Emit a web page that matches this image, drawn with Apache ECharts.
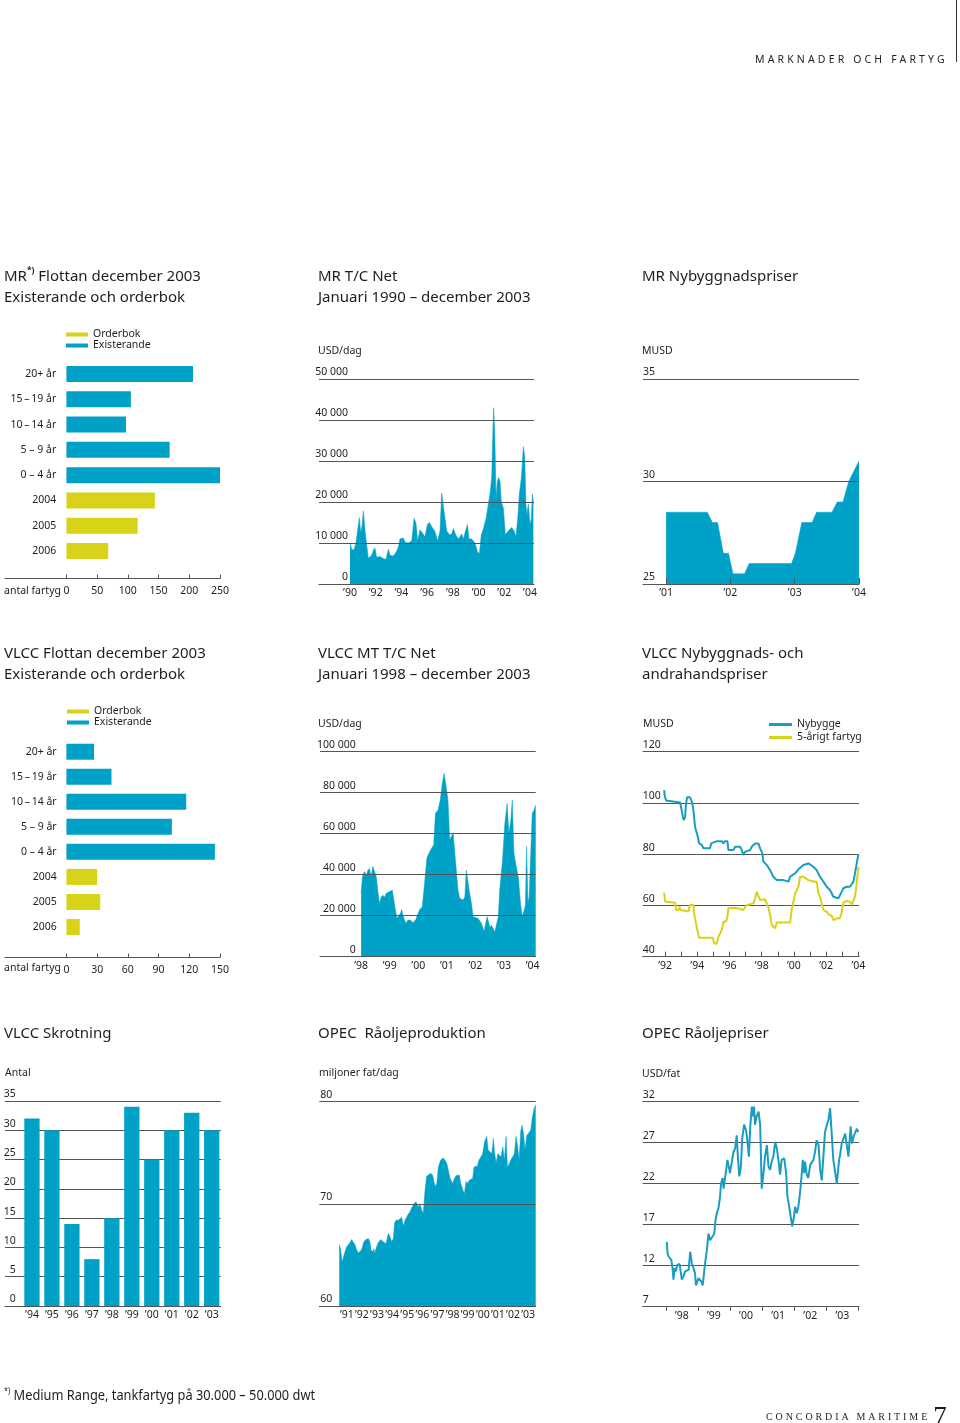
<!DOCTYPE html>
<html><head><meta charset="utf-8">
<script src="https://cdn.jsdelivr.net/npm/echarts@6/dist/echarts.min.js"></script>
<style>
html,body{margin:0;padding:0;background:#fff;}
#c{width:960px;height:1423px;position:absolute;left:0;top:0;}
.t{position:absolute;color:#1e1e1e;white-space:nowrap;pointer-events:none;}
#hdr{left:755px;top:52px;font:10.5px 'Noto Sans',sans-serif;letter-spacing:3.15px;}
#fn{left:4px;top:1385px;font:14px 'Noto Sans',sans-serif;transform-origin:0 0;transform:scaleX(0.915);}
#fn sup{font-size:8px;vertical-align:6px;}
#brand{left:766px;top:1401px;font:10px 'Liberation Serif','DejaVu Serif',serif;letter-spacing:2.9px;}
#brand span{font-size:27px;letter-spacing:0;vertical-align:-5px;margin-left:3px;}
</style></head><body>
<div id="c"></div>
<div class="t" id="hdr">MARKNADER OCH FARTYG</div>
<div class="t" id="fn"><sup>*)</sup> Medium Range, tankfartyg på 30.000 – 50.000 dwt</div>
<div class="t" id="brand">CONCORDIA MARITIME<span>7</span></div>
<script>
// ---------- DATA ----------
const ageCats = ['20+ år','15\u2009–\u200919 år','10\u2009–\u200914 år','5 – 9 år','0 – 4 år','2004','2005','2006'];
const mrExisting  = [206,105,97,168,251,'-','-','-'];
const mrOrderbook = ['-','-','-','-','-',144,116,68];
const mrFleetTicks = [0,50,100,150,200,250];

const vlccExisting  = [27,44,117,103,145,'-','-','-'];
const vlccOrderbook = ['-','-','-','-','-',30,33,13];
const vlccFleetTicks = [0,30,60,90,120,150];

const mrTcYears = [1990.00,1990.13,1990.31,1990.47,1990.60,1990.73,1990.83,1990.93,1991.04,1991.17,1991.30,1991.43,1991.56,1991.69,1991.81,1991.94,1992.07,1992.33,1992.59,1992.80,1992.98,1993.11,1993.37,1993.63,1993.76,1993.89,1994.15,1994.28,1994.54,1994.80,1994.98,1995.13,1995.26,1995.44,1995.63,1995.83,1996.02,1996.17,1996.35,1996.61,1996.82,1997.00,1997.13,1997.26,1997.39,1997.52,1997.73,1997.91,1998.04,1998.22,1998.43,1998.69,1998.82,1999.00,1999.13,1999.26,1999.46,1999.72,1999.90,2000.06,2000.21,2000.37,2000.58,2000.76,2000.89,2001.02,2001.10,2001.17,2001.25,2001.36,2001.46,2001.56,2001.67,2001.77,2001.93,2002.08,2002.32,2002.57,2002.76,2002.91,2003.07,2003.17,2003.33,2003.48,2003.59,2003.69,2003.77,2003.87,2004.00,2004.10,2004.18,2004.26];
const mrTcValues = [10000,8500,8300,10200,10000,16200,12500,14000,17800,13000,9500,6300,6200,7000,8200,8800,6500,6700,6200,6000,8500,7000,6800,8000,9000,11000,11200,10200,10000,10500,16000,15000,10500,13200,12500,11500,14500,15000,14000,12800,10500,13000,22200,19000,16000,13000,12000,12200,13500,12000,11000,12200,11000,13200,14500,11000,11000,10000,8000,7300,12000,13500,16000,19500,22000,26000,36000,43000,38000,21000,25000,26000,25000,20000,18500,12000,13000,13800,13000,11500,17000,22000,26000,33500,31000,19000,17000,19500,14500,16000,22000,20000];
const mrTcYearLabels = [1990,1992,1994,1996,1998,2000,2002,2004];

const mrNbYears = [2001.00,2001.64,2001.72,2001.80,2001.89,2001.97,2002.04,2002.22,2002.29,2002.95,2003.01,2003.11,2003.27,2003.34,2003.58,2003.66,2003.75,2003.84,2004.00];
const mrNbValues = [28.5,28.5,28.0,28.0,26.5,26.5,25.5,25.5,26.0,26.0,26.5,28.0,28.0,28.5,28.5,29.0,29.0,30.0,31.0];
const mrNbYearLabels = [2001,2002,2003,2004];

const vlccTcYears = [1998.00,1998.04,1998.06,1998.12,1998.18,1998.23,1998.29,1998.35,1998.41,1998.47,1998.53,1998.58,1998.64,1998.70,1998.76,1998.82,1998.88,1998.99,1999.09,1999.13,1999.20,1999.25,1999.32,1999.37,1999.42,1999.46,1999.56,1999.64,1999.72,1999.81,1999.91,1999.99,2000.05,2000.14,2000.22,2000.30,2000.37,2000.46,2000.54,2000.60,2000.69,2000.77,2000.84,2000.90,2000.96,2001.04,2001.10,2001.16,2001.22,2001.27,2001.33,2001.39,2001.45,2001.51,2001.57,2001.63,2001.68,2001.78,2001.86,2001.92,2001.98,2002.09,2002.15,2002.21,2002.27,2002.30,2002.36,2002.41,2002.47,2002.51,2002.56,2002.62,2002.68,2002.74,2002.80,2002.85,2002.95,2003.03,2003.11,2003.17,2003.24,2003.29,2003.35,2003.42,2003.50,2003.58,2003.64,2003.71,2003.75,2003.79,2003.84,2003.88,2003.94,2003.99,2004.05,2004.11];
const vlccTcValues = [31000,38000,40000,41500,39500,42000,43000,39000,44000,44700,39000,32500,26000,29000,30000,29000,31000,31700,32500,29000,22800,18700,18700,21000,23000,20300,16300,17900,17900,16600,18000,21000,23000,24400,35800,48000,50400,52800,54500,70000,71500,76400,84500,89400,84500,76400,57000,57700,60500,52000,42300,32500,28500,29300,27600,29300,42300,32500,26000,19500,18700,18700,19500,16300,13800,12200,16300,19500,16300,14300,15400,13800,12200,11700,19500,32500,47200,65000,74800,60200,66700,76400,50400,44700,39000,26000,19500,20300,25000,53700,26000,29300,29300,70000,71500,74000];
const vlccTcYearLabels = [1998,1999,2000,2001,2002,2003,2004];

const newbuildYears = [1991.94,1991.98,1992.06,1992.10,1992.93,1993.03,1993.10,1993.16,1993.24,1993.30,1993.37,1993.55,1993.66,1993.76,1993.82,1993.86,1993.97,1994.03,1994.11,1994.28,1994.38,1994.79,1994.86,1995.21,1995.52,1995.62,1995.72,1995.87,1995.93,1996.24,1996.35,1996.66,1996.76,1996.86,1996.97,1997.07,1997.28,1997.38,1997.59,1997.79,1997.90,1998.04,1998.10,1998.31,1998.52,1998.72,1998.93,1999.03,1999.35,1999.66,1999.76,2000.07,2000.28,2000.59,2000.90,2001.21,2001.41,2001.62,2001.83,2002.03,2002.24,2002.45,2002.55,2002.76,2002.86,2002.97,2003.07,2003.28,2003.48,2003.69,2003.79,2003.90,2004.00];
const newbuildValues = [105,102.7,101,100.3,100.2,97.2,94.6,93.3,94.6,99.8,102.2,102.2,100.5,97.2,93.3,90.7,90,86.8,84.2,83.6,82.3,82.3,84.2,85.1,85.1,84.2,85.1,85.1,81.6,81.6,82.9,82.9,81.6,79.7,81,80.3,81.6,82.9,84.2,84.2,82.3,80.3,77.1,75.8,73.8,71.2,69.9,70.6,69.9,69.3,71.2,72.5,74.1,75.8,76.4,75.1,73.8,71.2,69.3,67.3,66,63.4,62.8,62.8,63.4,65.4,66.7,67.3,67.3,69.3,72.5,76.4,80];
const fiveYearYears = [1991.94,1992.00,1992.06,1992.62,1992.68,1992.83,1992.89,1992.97,1993.03,1993.45,1993.55,1993.76,1993.82,1993.92,1994.00,1994.11,1994.96,1995.04,1995.21,1995.31,1995.41,1995.52,1995.62,1995.79,1995.87,1995.93,1996.35,1996.45,1996.86,1997.07,1997.28,1997.48,1997.59,1997.69,1997.79,1997.90,1998.21,1998.31,1998.41,1998.52,1998.62,1998.83,1998.89,1998.93,1999.76,1999.86,1999.97,2000.07,2000.17,2000.28,2000.38,2000.59,2000.90,2001.21,2001.41,2001.52,2001.62,2001.72,2001.83,2002.03,2002.14,2002.34,2002.45,2002.55,2002.66,2002.86,2002.97,2003.07,2003.28,2003.38,2003.48,2003.59,2003.69,2003.79,2003.90,2004.00];
const fiveYearValues = [65,61.5,61.1,61.1,58.2,58.2,59.5,58.2,57.6,57.6,60.2,60.2,56.3,53,50.4,47.4,47.4,45.2,45.2,47.8,48.5,50.4,53.7,53.7,55.6,58.9,59.1,58.5,58.2,60.2,60.5,60.8,62.8,65.4,65,62.1,62.4,60.8,59.5,56.3,52.4,51.1,50.4,53.3,53.3,58.2,61.5,64.7,65.4,67.3,71.2,71.2,69.9,69.3,69.3,64.7,63.4,60.8,58.2,57.6,56.6,56,54.3,53.7,55,55,57.6,61.1,61.8,62.1,61.5,60.2,60.8,63.4,68.6,75.1];
const vlccPriceYearLabels = [1992,1994,1996,1998,2000,2002,2004];
const vlccPriceYearTicks = [1992,1993,1994,1995,1996,1997,1998,1999,2000,2001,2002,2003,2004];

const scrapYears = [1994,1995,1996,1997,1998,1999,2000,2001,2002,2003];
const scrapValues = [32,30,14,8,15,34,25,30,33,30];

const opecProdYears = [1991.00,1991.09,1991.18,1991.26,1991.38,1991.49,1991.66,1991.82,1991.93,1992.04,1992.15,1992.26,1992.37,1992.48,1992.63,1992.77,1992.92,1993.03,1993.10,1993.21,1993.30,1993.36,1993.47,1993.58,1993.74,1993.91,1994.09,1994.25,1994.36,1994.47,1994.58,1994.66,1994.75,1994.91,1995.02,1995.13,1995.24,1995.35,1995.46,1995.57,1995.68,1995.79,1995.94,1996.08,1996.23,1996.34,1996.45,1996.56,1996.67,1996.78,1996.89,1997.05,1997.18,1997.34,1997.45,1997.56,1997.71,1997.89,1998.00,1998.11,1998.22,1998.33,1998.51,1998.62,1998.77,1998.95,1999.04,1999.17,1999.28,1999.39,1999.48,1999.61,1999.72,1999.83,1999.92,2000.03,2000.14,2000.25,2000.38,2000.49,2000.62,2000.76,2000.85,2000.98,2001.09,2001.20,2001.27,2001.38,2001.49,2001.60,2001.71,2001.82,2001.93,2002.04,2002.13,2002.21,2002.35,2002.48,2002.59,2002.70,2002.79,2002.90,2003.01,2003.10,2003.19,2003.30,2003.41,2003.52,2003.67,2003.78,2003.89,2004.00];
const opecProdValues = [66.0,65.6,64.3,64.7,65.3,65.8,66.1,66.5,66.6,66.0,65.5,65.2,65.2,65.5,66.3,66.5,66.6,66.3,65.5,65.3,65.6,65.2,65.8,66.2,66.5,66.3,66.1,67.1,66.8,66.3,66.6,68.1,68.4,68.4,68.3,68.7,67.8,68.4,68.7,69.0,69.2,69.6,70.0,70.2,69.7,70.0,69.4,69.1,71.2,72.7,72.8,73.0,72.8,71.7,72.0,73.6,74.3,74.5,74.6,74.0,73.3,72.5,72.0,72.5,72.8,72.8,72.0,71.4,71.0,72.2,72.0,72.3,72.2,72.5,73.6,73.6,73.7,74.3,74.6,74.9,76.1,76.6,75.3,75.4,74.9,76.4,75.1,74.0,74.9,74.9,74.6,75.6,74.3,76.6,73.6,73.8,74.3,74.6,74.9,76.6,75.8,74.3,77.1,77.7,76.9,75.3,76.7,76.7,77.2,78.5,79.3,79.7];
const opecProdYearLabels = [1991.5,1992.5,1993.5,1994.5,1995.5,1996.5,1997.5,1998.5,1999.5,2000.5,2001.5,2002.5,2003.5];

const oilPriceYears = [1998.03,1998.06,1998.11,1998.17,1998.21,1998.24,1998.27,1998.31,1998.36,1998.43,1998.47,1998.50,1998.55,1998.60,1998.65,1998.71,1998.76,1998.81,1998.86,1998.91,1998.94,1998.99,1999.02,1999.07,1999.12,1999.15,1999.19,1999.23,1999.28,1999.33,1999.38,1999.43,1999.51,1999.55,1999.59,1999.64,1999.69,1999.72,1999.77,1999.80,1999.85,1999.88,1999.92,1999.96,2000.00,2000.05,2000.11,2000.16,2000.21,2000.24,2000.29,2000.34,2000.38,2000.44,2000.50,2000.54,2000.59,2000.63,2000.68,2000.71,2000.75,2000.78,2000.83,2000.89,2000.94,2000.99,2001.04,2001.09,2001.15,2001.20,2001.25,2001.30,2001.35,2001.41,2001.46,2001.51,2001.56,2001.61,2001.69,2001.75,2001.79,2001.83,2001.89,2001.94,2001.98,2002.03,2002.08,2002.13,2002.18,2002.23,2002.27,2002.31,2002.34,2002.39,2002.44,2002.50,2002.55,2002.60,2002.65,2002.70,2002.76,2002.81,2002.86,2002.91,2002.96,2003.02,2003.07,2003.12,2003.17,2003.22,2003.28,2003.33,2003.36,2003.40,2003.43,2003.48,2003.53,2003.59,2003.64,2003.69,2003.72,2003.76,2003.80,2003.85,2003.90,2003.95,2004.00];
const oilPriceValues = [14.9,13.3,13.4,12.7,11.7,10.3,11.7,11.3,12.1,12.2,11.1,10.3,10.7,11.3,11.5,11.5,13.7,12.3,12.1,11.1,9.6,9.6,10.5,10.5,10.0,9.6,11.1,12.5,13.9,15.9,15.1,14.9,15.9,17.6,18.4,19.0,20.4,22.0,22.7,21.4,21.6,23.7,24.9,24.7,23.3,24.5,25.9,26.3,27.9,25.7,22.9,24.1,27.5,29.2,28.5,27.3,25.3,28.9,31.4,30.2,31.4,29.2,30.2,30.8,29.2,21.4,23.1,25.3,26.7,24.1,23.7,24.7,25.3,27.1,26.3,24.9,23.1,24.9,25.1,23.3,20.4,19.6,18.0,16.8,17.6,19.2,18.4,19.2,20.8,22.9,24.9,23.3,24.7,23.1,22.7,24.3,24.1,24.9,25.9,27.3,26.7,23.7,22.4,25.3,28.3,29.2,29.8,31.2,31.4,24.9,23.3,22.0,23.3,24.9,25.5,26.9,27.1,28.1,27.9,25.3,25.3,29.0,26.9,27.7,27.5,28.7,28.3];
const oilPriceYearLabels = [1998.5,1999.5,2000.5,2001.5,2002.5,2003.5];
const oilPriceYearTicks = [1998,1999,2000,2001,2002,2003,2004];

// ---------- STYLE ----------
const FONT = "'Noto Sans','Open Sans',sans-serif";
const INK = '#1e1e1e';
const RULE = '#555555';
const BLUE = '#00a1c6';
const LINEBLUE = '#1a9dc0';
const YELLOW = '#d8d219';
const FS = 10.5;

const pairs = (xs, ys) => xs.map((x, i) => [x, ys[i]]);
const yrFmt = v => '\u2019' + String(Math.floor(v + 1e-6)).slice(2);
const thFmt = v => v === 0 ? '0' : (v / 1000) + ' 000';
const lbl = (extra) => Object.assign({fontSize: FS, color: INK, fontFamily: FONT}, extra);

function yVal(gi, min, max, interval, align, margin, fmt) {
  return {gridIndex: gi, type: 'value', min, max, interval,
    axisLine: {show: false}, axisTick: {show: false},
    splitLine: {show: true, lineStyle: {color: RULE, width: 1}},
    axisLabel: lbl({inside: true, align, margin, verticalAlign: 'bottom', padding: [0, 0, 1, 0], formatter: fmt})};
}
function xVal(gi, min, max, labelVals, tickVals, tickInside, tickLen, margin) {
  return {gridIndex: gi, type: 'value', min, max,
    axisLine: {show: true, onZero: false, lineStyle: {color: RULE, width: 1}},
    axisTick: tickVals ? {show: true, inside: tickInside, length: tickLen, customValues: tickVals, lineStyle: {color: RULE}} : {show: false},
    splitLine: {show: false},
    axisLabel: lbl({customValues: labelVals, formatter: yrFmt, margin})};
}
function area(gi, data) {
  return {type: 'line', xAxisIndex: gi, yAxisIndex: gi, data, symbol: 'none', showSymbol: false, z: -1,
    lineStyle: {width: 0.5, color: BLUE}, areaStyle: {color: BLUE, opacity: 1, origin: 'start'}, silent: true};
}

const titleRich = {
  a: {fontSize: 15, lineHeight: 21, color: INK, fontFamily: FONT, fontWeight: 'normal'},
  s: {fontSize: 8.5, lineHeight: 11, verticalAlign: 'top', color: INK, fontFamily: FONT, fontWeight: 'bold'}
};
function ttl(left, top, text) {
  return {left, top, padding: 0, text, textStyle: {fontWeight: 'normal', rich: titleRich}};
}
function unit(left, cy, text) {
  return {type: 'text', left, top: cy - 5, style: {text, fontSize: FS, fill: INK, fontFamily: FONT}};
}

const legendBase = {orient: 'vertical', icon: 'rect', padding: 0, selectedMode: false,
  textStyle: {fontSize: FS, color: INK, fontFamily: FONT, padding: [0, 0, 0, 0]}};

const option = {
  animation: false,
  textStyle: {fontFamily: FONT},
  title: [
    ttl(4, 266, '{a|MR}{s|*)}{a| Flottan december 2003}\n{a|Existerande och orderbok}'),
    ttl(318, 266, '{a|MR T/C Net}\n{a|Januari 1990 – december 2003}'),
    ttl(642, 266, '{a|MR Nybyggnadspriser}'),
    ttl(4, 643, '{a|VLCC Flottan december 2003}\n{a|Existerande och orderbok}'),
    ttl(318, 643, '{a|VLCC MT T/C Net}\n{a|Januari 1998 – december 2003}'),
    ttl(642, 643, '{a|VLCC Nybyggnads- och}\n{a|andrahandspriser}'),
    ttl(4, 1023, '{a|VLCC Skrotning}'),
    ttl(318, 1023, '{a|OPEC  Råoljeproduktion}'),
    ttl(642, 1023, '{a|OPEC Råoljepriser}')
  ],
  legend: [
    Object.assign({}, legendBase, {data: ['Orderbok', 'Existerande'], left: 66, top: 329, itemWidth: 22, itemHeight: 4, itemGap: 0}),
    Object.assign({}, legendBase, {data: ['Orderbok', 'Existerande'], left: 67, top: 706, itemWidth: 22, itemHeight: 4, itemGap: 0}),
    Object.assign({}, legendBase, {data: ['Nybygge', '5-årigt fartyg'], left: 769, top: 719, itemWidth: 23, itemHeight: 3, itemGap: 2})
  ],
  grid: [
    {left: 5, top: 361.4, width: 215, height: 202.2},
    {left: 319, top: 379, width: 215, height: 205},
    {left: 643, top: 379, width: 216, height: 205},
    {left: 5, top: 739.2, width: 215, height: 200.3},
    {left: 320, top: 751.7, width: 215.7, height: 205},
    {left: 642.7, top: 751.7, width: 216.3, height: 205},
    {left: 5, top: 1101, width: 215.7, height: 205},
    {left: 319.3, top: 1101.7, width: 216.4, height: 204.3},
    {left: 642.7, top: 1101.7, width: 216.3, height: 205}
  ].map(g => Object.assign(g, {outerBoundsMode: 'none', containLabel: false})),
  xAxis: [
    {gridIndex: 0, type: 'value', min: -100, max: 250, offset: 15,
      axisLine: {show: true, onZero: false, lineStyle: {color: RULE}},
      axisTick: {show: true, inside: true, length: 4, customValues: mrFleetTicks, lineStyle: {color: RULE}},
      axisLabel: lbl({customValues: mrFleetTicks, margin: 7}), splitLine: {show: false}},
    xVal(1, 1987.59, 2004.31, mrTcYearLabels, null, false, 0, 4),
    xVal(2, 2000.64, 2004.0, mrNbYearLabels, mrNbYearLabels, true, 6, 4),
    {gridIndex: 3, type: 'value', min: -60, max: 150, offset: 18,
      axisLine: {show: true, onZero: false, lineStyle: {color: RULE}},
      axisTick: {show: true, inside: true, length: 4, customValues: vlccFleetTicks, lineStyle: {color: RULE}},
      axisLabel: lbl({customValues: vlccFleetTicks, margin: 7}), splitLine: {show: false}},
    xVal(4, 1996.56, 2004.11, vlccTcYearLabels, null, false, 0, 4),
    xVal(5, 1990.61, 2004.04, vlccPriceYearLabels, vlccPriceYearTicks, true, 5, 4),
    xVal(6, 1992.65, 2003.45, scrapYears, null, false, 0, 4),
    xVal(7, 1989.68, 2004.0, opecProdYearLabels, null, false, 0, 4),
    xVal(8, 1997.28, 2004.02, oilPriceYearLabels, oilPriceYearTicks, false, 4, 4)
  ],
  yAxis: [
    {gridIndex: 0, type: 'category', data: ageCats, inverse: true, offset: -61.3,
      axisLine: {show: false, onZero: false}, axisTick: {show: false}, axisLabel: lbl({margin: 10})},
    yVal(1, 0, 50000, 10000, 'right', 29, thFmt),
    yVal(2, 25, 35, 5, 'left', 0),
    {gridIndex: 3, type: 'category', data: ageCats, inverse: true, offset: -61.7,
      axisLine: {show: false, onZero: false}, axisTick: {show: false}, axisLabel: lbl({margin: 10})},
    yVal(4, 0, 100000, 20000, 'right', 35.7, thFmt),
    yVal(5, 40, 120, 20, 'left', 0),
    yVal(6, 0, 35, 5, 'right', 10.7),
    yVal(7, 60, 80, 10, 'left', 1),
    yVal(8, 7, 32, 5, 'left', 0)
  ],
  series: [
    {type: 'bar', name: 'Existerande', xAxisIndex: 0, yAxisIndex: 0, data: mrExisting, barWidth: 16, barGap: '-100%', itemStyle: {color: BLUE}},
    {type: 'bar', name: 'Orderbok', xAxisIndex: 0, yAxisIndex: 0, data: mrOrderbook, barWidth: 16, barGap: '-100%', itemStyle: {color: YELLOW}},
    area(1, pairs(mrTcYears, mrTcValues)),
    area(2, pairs(mrNbYears, mrNbValues)),
    {type: 'bar', name: 'Existerande', xAxisIndex: 3, yAxisIndex: 3, data: vlccExisting, barWidth: 16, barGap: '-100%', itemStyle: {color: BLUE}},
    {type: 'bar', name: 'Orderbok', xAxisIndex: 3, yAxisIndex: 3, data: vlccOrderbook, barWidth: 16, barGap: '-100%', itemStyle: {color: YELLOW}},
    area(4, pairs(vlccTcYears, vlccTcValues)),
    {type: 'line', name: 'Nybygge', xAxisIndex: 5, yAxisIndex: 5, data: pairs(newbuildYears, newbuildValues), symbol: 'none', showSymbol: false, lineStyle: {width: 2, color: LINEBLUE}, itemStyle: {color: LINEBLUE}},
    {type: 'line', name: '5-årigt fartyg', xAxisIndex: 5, yAxisIndex: 5, data: pairs(fiveYearYears, fiveYearValues), symbol: 'none', showSymbol: false, lineStyle: {width: 2, color: YELLOW}, itemStyle: {color: YELLOW}},
    {type: 'bar', name: 'Skrotning', xAxisIndex: 6, yAxisIndex: 6, data: pairs(scrapYears, scrapValues), barWidth: 15.3, itemStyle: {color: BLUE}},
    area(7, pairs(opecProdYears, opecProdValues)),
    {type: 'line', name: 'Råoljepris', xAxisIndex: 8, yAxisIndex: 8, data: pairs(oilPriceYears, oilPriceValues), symbol: 'none', showSymbol: false, lineStyle: {width: 2, color: LINEBLUE}}
  ],
  graphic: [
    {type: 'line', shape: {x1: 956.5, y1: 0, x2: 956.5, y2: 62}, style: {stroke: '#333', lineWidth: 1}},
    unit(318, 351, 'USD/dag'),
    unit(642, 351, 'MUSD'),
    unit(318, 724, 'USD/dag'),
    unit(643, 724, 'MUSD'),
    unit(5, 1073, 'Antal'),
    unit(319, 1073, 'miljoner fat/dag'),
    unit(642, 1074, 'USD/fat'),
    unit(4, 591, 'antal fartyg'),
    unit(4, 968, 'antal fartyg')
  ]
};

const chart = echarts.init(document.getElementById('c'), null, {renderer: 'canvas', width: 960, height: 1423});
chart.setOption(option);
</script>
</body></html>
